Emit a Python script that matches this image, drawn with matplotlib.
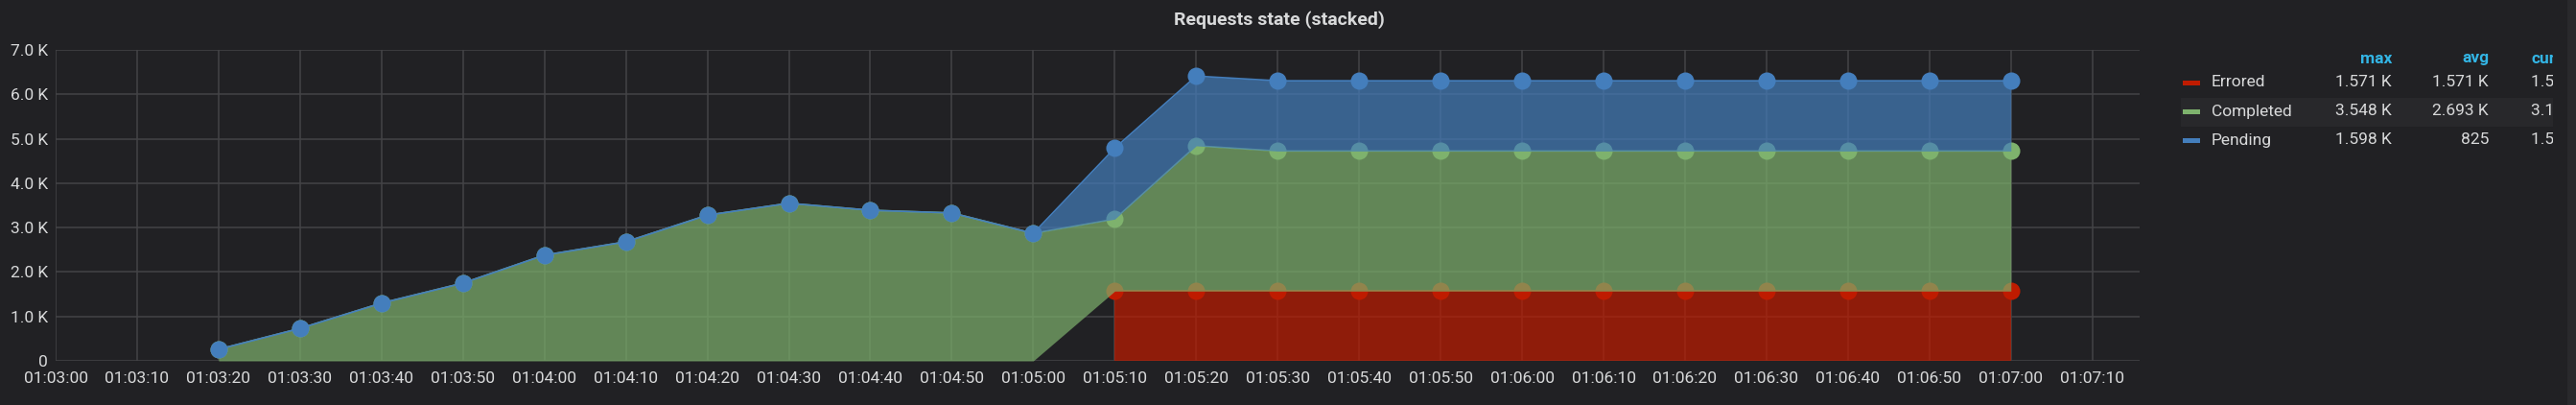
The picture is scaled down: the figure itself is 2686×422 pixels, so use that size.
import numpy as np
import pandas as pd
import matplotlib
matplotlib.use('Agg')
import matplotlib.pyplot as plt
import matplotlib.dates as mdates
from matplotlib.patches import Rectangle

# sample timestamps, one every 10 s
times = pd.date_range('2019-01-01 01:03:20', '2019-01-01 01:07:00', freq='10s')

nan = np.nan
errored = [nan] * 11 + [1571] * 12
completed = [260, 730, 1300, 1750, 2380, 2680, 3280, 3548, 3390, 3330, 2870,
             1620, 3270] + [3153] * 10
pending = [0] * 11 + [1598, 1570] + [1581] * 10

series_names = ['Errored', 'Completed', 'Pending']
series_colors = ['#BF1B00', '#7EB26D', '#447EBC']

BG = '#212124'
GRID = '#444447'
TXT = '#d8d9da'
HDR = '#33b5e5'

W, H = 2686, 422
plt.rcParams['font.family'] = ['Roboto', 'DejaVu Sans']

fig = plt.figure(figsize=(W / 100, H / 100), dpi=100, facecolor=BG)
ax = fig.add_axes([58 / W, 46 / H, (2231 - 58) / W, 324 / H])
ax.set_facecolor(BG)

err = np.array(errored, dtype=float)
comp = np.array(completed, dtype=float)
pend = np.array(pending, dtype=float)

base0 = np.nan_to_num(err)
top1 = base0 + comp
top2 = top1 + pend

# errored (only where there is data)
has_err = ~np.isnan(err)
ax.fill_between(times, 0, base0, where=has_err, color=series_colors[0],
                alpha=0.7, lw=0, zorder=2)
ax.plot(times, err, color=series_colors[0], lw=1.2, marker='o', ms=13,
        mew=0, zorder=3)

ax.fill_between(times, base0, top1, color=series_colors[1], alpha=0.7,
                lw=0, zorder=4)
ax.plot(times, top1, color=series_colors[1], lw=1.2, marker='o', ms=13,
        mew=0, zorder=5)

ax.fill_between(times, top1, top2, color=series_colors[2], alpha=0.7,
                lw=0, zorder=6)
ax.plot(times, top2, color=series_colors[2], lw=1.2, marker='o', ms=13,
        mew=0, zorder=7)

ax.set_xlim(pd.Timestamp('2019-01-01 01:03:00'),
            pd.Timestamp('2019-01-01 01:07:15.8'))
ax.set_ylim(0, 7000)
ax.set_yticks(range(0, 7001, 1000))
ax.set_yticklabels(['0'] + [f'{v / 1000:.1f} K' for v in range(1000, 7001, 1000)])
ax.xaxis.set_major_locator(mdates.SecondLocator(bysecond=range(0, 60, 10)))
ax.xaxis.set_major_formatter(mdates.DateFormatter('%H:%M:%S'))

ax.grid(True, color=GRID, lw=1.1, zorder=1)
ax.set_axisbelow(True)
for s in ax.spines.values():
    s.set_visible(False)
ax.tick_params(length=0, labelcolor=TXT, labelsize=12.5)
ax.tick_params(axis='x', pad=8)
ax.tick_params(axis='y', pad=6)

fig.text(1334 / W, 1 - 21 / H, 'Requests state (stacked)', color=TXT,
         fontsize=14, fontweight='bold', ha='center', va='center')


def fmt(v):
    if v >= 1000:
        return f'{v / 1000:.3f} K'
    return f'{v:.0f}'


# legend table on the right
lax = fig.add_axes([2231 / W, 0, (2662 - 2231) / W, 1])
lax.set_xlim(2231, 2662)
lax.set_ylim(H, 0)
lax.axis('off')
lax.add_patch(Rectangle((2274, 102), 2662 - 2274, 30, color='#28282b', lw=0))

for x, lab, ha in [(2494, 'max', 'right'), (2595, 'avg', 'right'), (2639, 'cur', 'left')]:
    lax.text(x, 61, lab, color=HDR, fontsize=12.5, fontweight='bold',
             ha=ha, va='center', clip_on=True)

rows_y = [86, 116, 146]
for name, col, vals, y in zip(series_names, series_colors, [err, comp, pend], rows_y):
    v = vals[~np.isnan(vals)]
    lax.add_patch(Rectangle((2276, y - 2.5), 18, 5, color=col, lw=0))
    lax.text(2306, y, name, color=TXT, fontsize=12.5, ha='left', va='center')
    lax.text(2494, y, fmt(v.max()), color=TXT, fontsize=12.5, ha='right', va='center')
    lax.text(2595, y, fmt(v.mean()), color=TXT, fontsize=12.5, ha='right', va='center')
    lax.text(2639, y, fmt(v[-1]), color=TXT, fontsize=12.5, ha='left',
             va='center', clip_on=True)

fig.add_artist(Rectangle((2677 / W, 0), 9 / W, 1, transform=fig.transFigure,
                         color='#29292c', lw=0))

fig.savefig('out.png', dpi=100, facecolor=BG)
